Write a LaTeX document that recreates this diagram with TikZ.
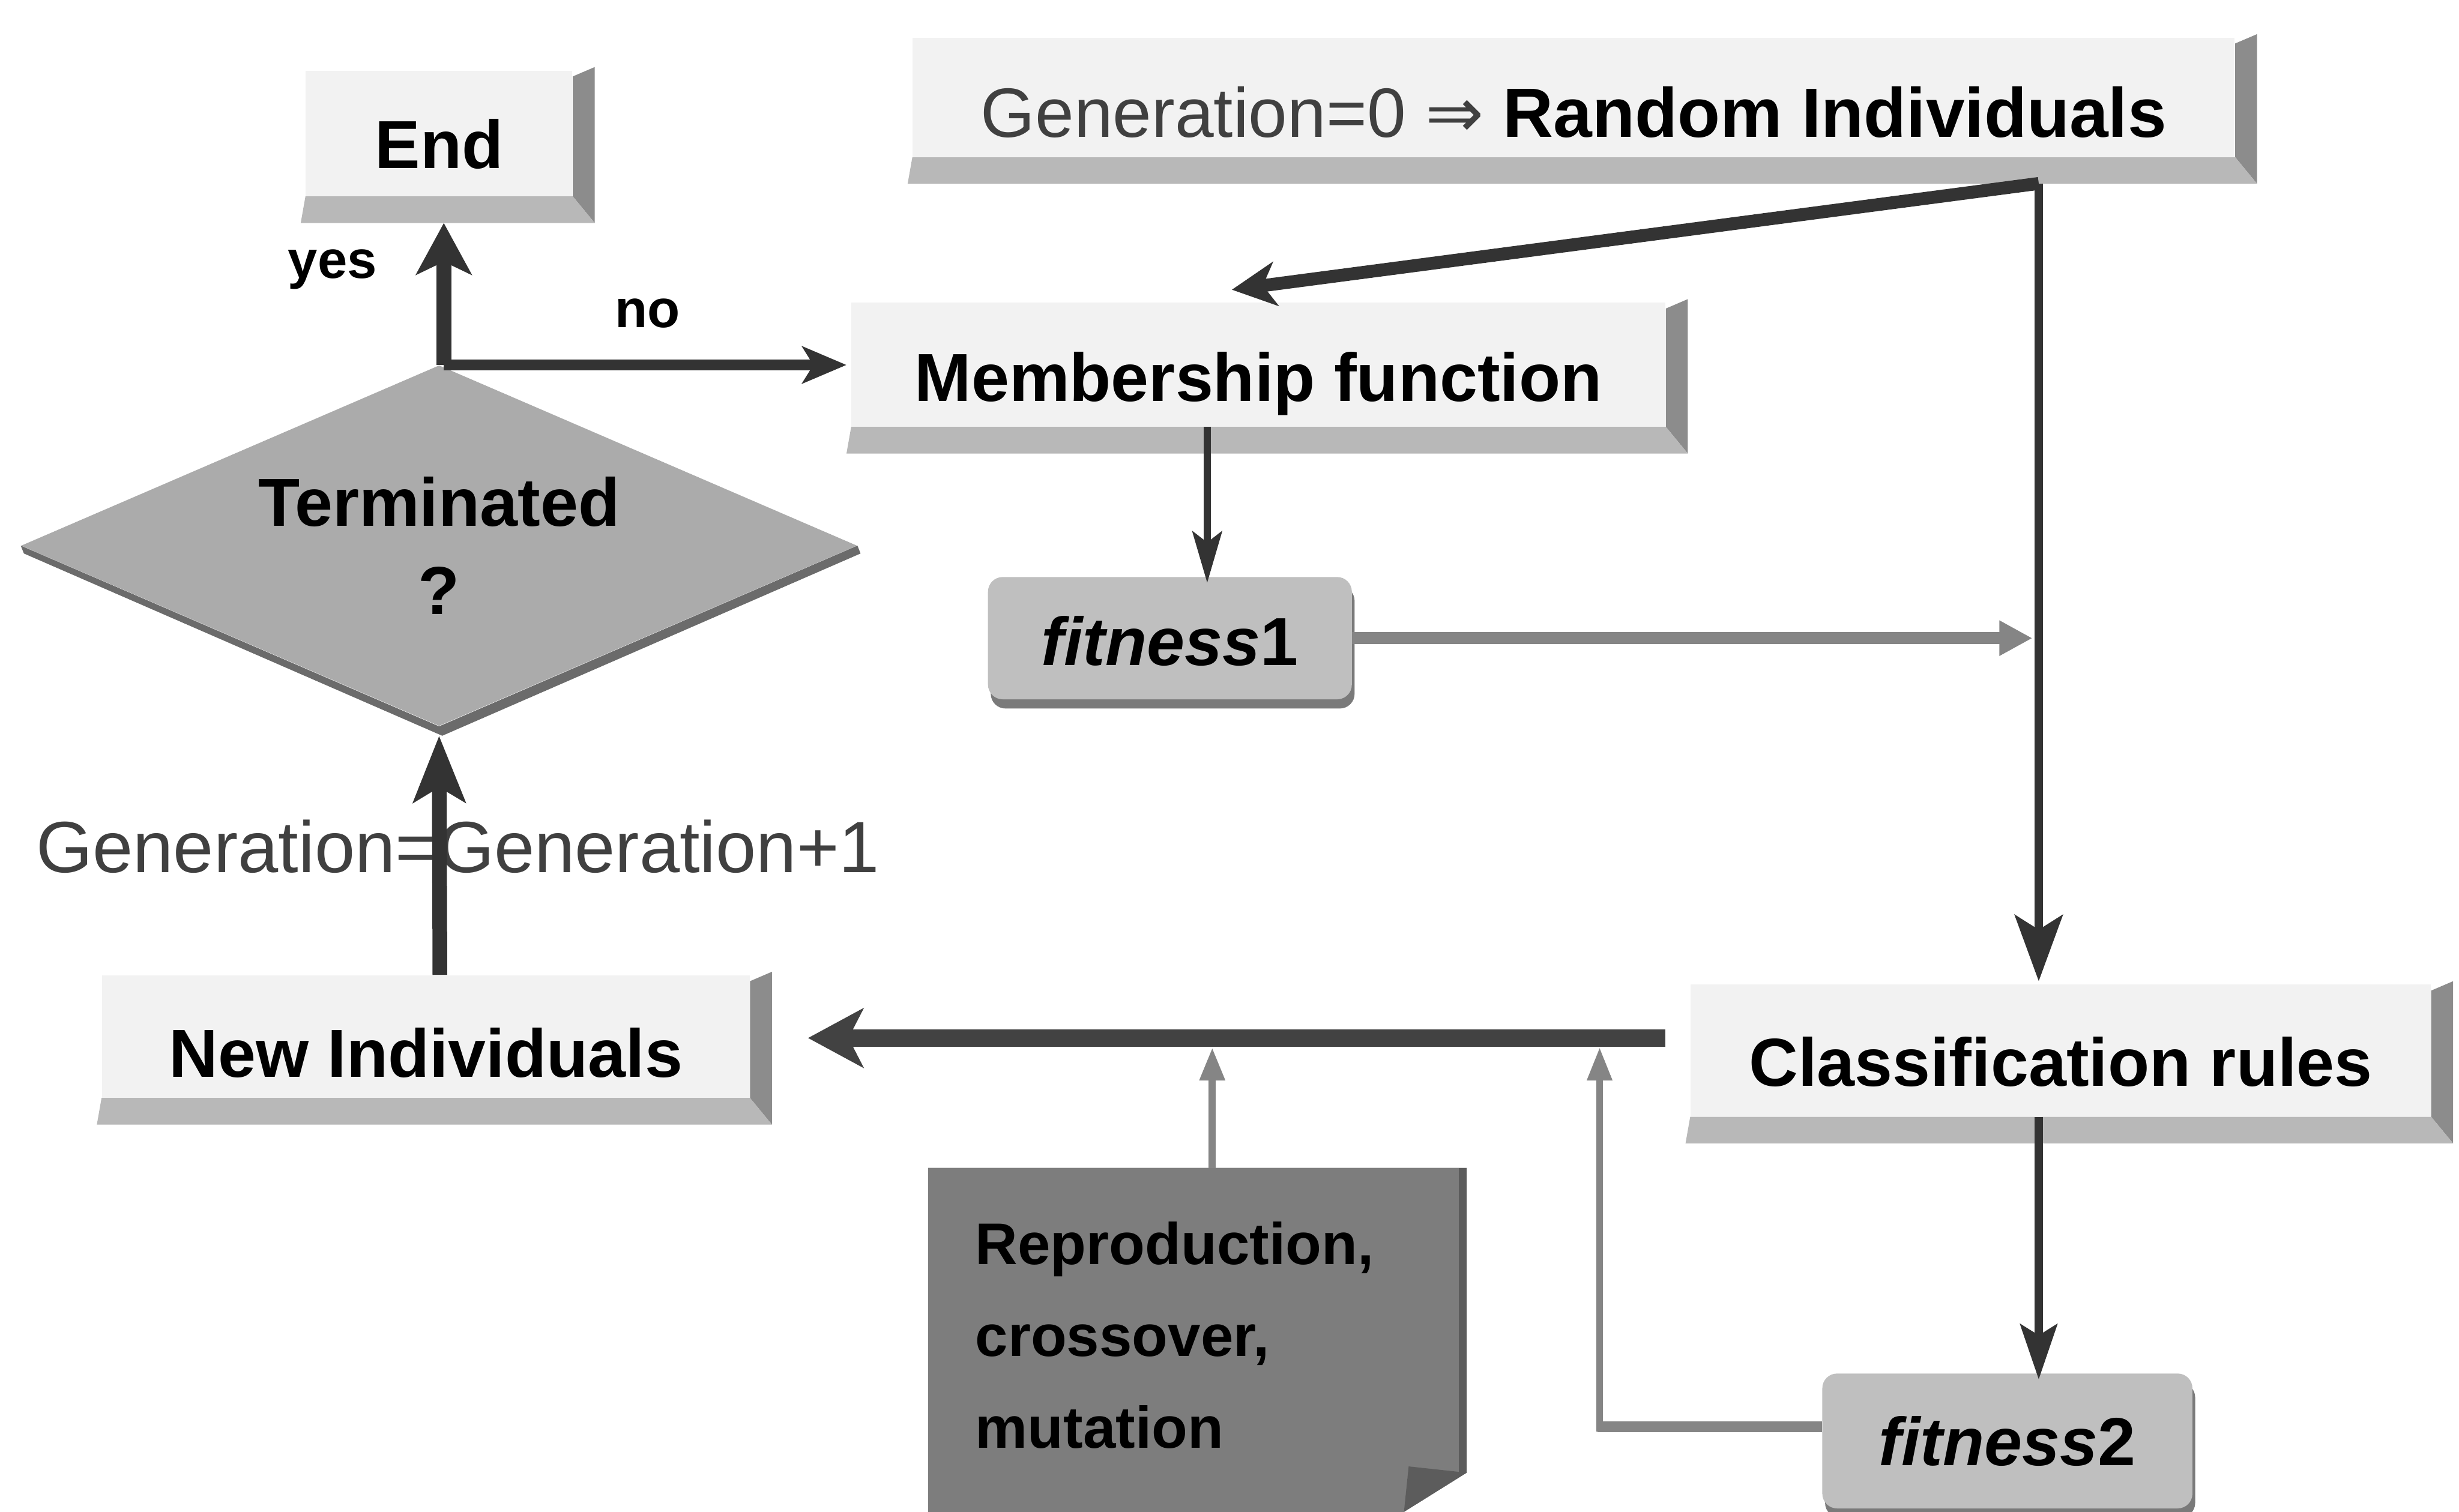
\documentclass[tikz,border=0pt]{standalone}
\usepackage{fontspec}
\setmainfont{Liberation Sans}
\newfontfamily\arrowfont{DejaVu Sans}
\usetikzlibrary{arrows.meta,shapes.geometric,calc,fit,shadows}

\definecolor{facec}{gray}{0.95}
\definecolor{bevb}{gray}{0.72}
\definecolor{bevr}{gray}{0.55}
\definecolor{darkarrow}{gray}{0.2}
\definecolor{bardark}{gray}{0.26}
\definecolor{grayarrow}{gray}{0.52}
\definecolor{fitc}{gray}{0.75}
\definecolor{fitsh}{gray}{0.48}
\definecolor{diac}{gray}{0.67}
\definecolor{diash}{gray}{0.42}
\definecolor{reproc}{gray}{0.49}
\definecolor{reprodk}{gray}{0.36}
\definecolor{txtgray}{gray}{0.25}

% bevelled edges (right and bottom) of a raised box
\newcommand\bevelbox[1]{%
  \fill[bevr] ($(#1.north east)+(0,4)$) -- ($(#1.north east)+(14,-2)$)
     -- ($(#1.south east)+(14,17)$) -- (#1.south east) -- cycle;
  \fill[bevb] (#1.south west) -- (#1.south east)
     -- ($(#1.south east)+(14,17)$) -- ($(#1.south west)+(-3,17)$) -- cycle;}

\begin{document}
\begin{tikzpicture}[x=0.03cm, y=-0.03cm,
  face/.style={fill=facec, draw=none, inner sep=0pt},
  boxlbl/.style={font=\fontsize{37}{44}\selectfont\bfseries, inner sep=0pt,
    text height=26.5pt, text depth=0pt},
  fitbox/.style={fill=fitc, rounded corners=8pt, inner sep=0pt,
    drop shadow={shadow xshift=1.5pt, shadow yshift=-5pt, fill=fitsh, opacity=1}},
  dk/.style={draw=darkarrow},
  gr/.style={draw=grayarrow},
  lbl/.style={font=\fontsize{29}{34}\selectfont\bfseries}]

\useasboundingbox (0,0) rectangle (1568,964);
\fill[white] (0,0) rectangle (1568,964);
\begin{scope}
\clip (0,0) rectangle (1568,964);

% ---- boxes ----
\node[face, fit={(582,24) (1425,100)},
  label={[boxlbl, font=\fontsize{38}{44}\selectfont\bfseries, yshift=-8.5pt]center:%
    {\mdseries\color{txtgray}Generation=0 {\arrowfont ⇒}} Random Individuals}] (start) {};
\bevelbox{start}
\node[face, fit={(543,193) (1062,272)},
  label={[boxlbl, yshift=-6.8pt]center:Membership function}] (member) {};
\bevelbox{member}
\node[face, fit={(195,45) (365,125)},
  label={[boxlbl, yshift=-6pt]center:End}] (endbox) {};
\bevelbox{endbox}
\node[face, fit={(1078,628) (1550,712)},
  label={[boxlbl, yshift=-6pt]center:Classification rules}] (cls) {};
\bevelbox{cls}
\node[face, fit={(65,622) (478,700)},
  label={[boxlbl, yshift=-9pt]center:New Individuals}] (newind) {};
\bevelbox{newind}

\node[fitbox, fit={(630,368) (862,446)},
  label={[boxlbl, yshift=-1.7pt]center:\textit{fitness}1}] (fit1) {};
\node[fitbox, fit={(1162,876) (1398,962)},
  label={[boxlbl]center:\textit{fitness}2}] (fit2) {};

% decision
\node[diamond, aspect=2.3, fill=diac, inner sep=0pt,
  minimum width=15.99cm, minimum height=6.9cm, align=center,
  font=\fontsize{37}{48}\selectfont\bfseries] (decide) at (280,348)
  {Terminated\\?};
\fill[diash] ($(decide.west)+(2,5)$) -- ($(decide.south)+(2,6)$)
  -- ($(decide.east)+(2,5)$) -- (decide.east) -- (decide.south) -- (decide.west) -- cycle;

% genetic operators (note with a folded corner)
\node[inner sep=0pt, fit={(592,745) (935,964)}] (repro) {};
\fill[reproc] (repro.north west) -- (repro.north east)
  -- ($(repro.south east)+(0,-25)$) -- ($(repro.south east)+(-40,0)$)
  -- (repro.south west) -- cycle;
\fill[reprodk] ($(repro.north east)+(-5,0)$) -- (repro.north east)
  -- ($(repro.south east)+(0,-25)$) -- ($(repro.south east)+(-5,-25)$) -- cycle;
\fill[reprodk] ($(repro.south east)+(0,-25)$) -- ($(repro.south east)+(-40,0)$)
  -- ($(repro.south east)+(-37,-29)$) -- cycle;
\node[anchor=west, align=left, font=\fontsize{32}{50}\selectfont\bfseries]
  (reprotext) at ($(repro.west)+(26,-3)$) {Reproduction,\\crossover,\\mutation};

% ---- junctions ----
\coordinate (j1) at (1300,117);
\coordinate (barR) at (1062,662);
\coordinate (b1) at (773,668);
\coordinate (b2) at (1020,668);
\coordinate (mf) at ($(member.south west)!0.437!(member.south east)$);

% ---- connectors ----
\draw[dk, line width=7pt, -{Stealth[length=24pt,width=24pt,inset=7pt]}]
  (j1) -- ($(member.north)+(-17,-8)$);
\draw[dk, line width=4.5pt, -{Stealth[length=36pt,width=26pt,inset=8pt]}]
  (j1) -- ($(j1 |- cls.north)+(0,-2)$);
\draw[dk, line width=4pt, -{Stealth[length=28pt,width=16pt,inset=6pt]}]
  (mf) -- ($(mf |- fit1.north)+(0,4)$);
\draw[gr, line width=6.5pt, -{Triangle[length=18pt,width=18pt]}]
  (fit1.east) -- ($(fit1.east -| j1)+(-4,0)$);
\draw[dk, line width=4.5pt, -{Stealth[length=30pt,width=20pt,inset=6pt]}]
  (cls.south -| j1) -- ($(fit2.north -| j1)+(0,4)$);
\draw[gr, line width=6pt] ($(fit2.west)+(0,-9)$) -- ($(fit2.west -| b2)+(-1.5,-9)$);
\draw[gr, line width=3.5pt, -{Triangle[length=18pt,width=13pt]}]
  ($(fit2.west -| b2)+(0,-6)$) -- (b2);
\draw[gr, line width=4pt, -{Triangle[length=18pt,width=13pt]}]
  (repro.north -| b1) -- (b1);
\draw[draw=bardark, line width=9.5pt, -{Stealth[length=30pt,width=32pt,inset=8pt]}]
  (barR) -- ($(newind.east)+(37,1)$);

\node[font=\fontsize{39.5}{46}\selectfont, text=txtgray] (genlabel) at (292,540)
  {Generation=Generation+1};
\draw[dk, line width=8pt, -{Stealth[length=36pt,width=28pt,inset=8pt]}]
  ($(newind.north)+(9,0)$) -- ($(decide.south)+(0,6)$);
\draw[dk, line width=8pt, -{Stealth[length=28pt,width=30pt,inset=7pt]}]
  ($(decide.north)+(3,0)$) -- ($(decide.north |- endbox.south)+(3,17)$);
\draw[dk, line width=6pt, -{Stealth[length=24pt,width=20pt,inset=6pt]}]
  ($(decide.north)+(3,0)$) -- ($(decide.north -| member.west)+(-3,0)$);

\node[lbl] (yes) at (212,172) {yes};
\node[lbl] (no) at (413,200) {no};
\end{scope}
\end{tikzpicture}
\end{document}
